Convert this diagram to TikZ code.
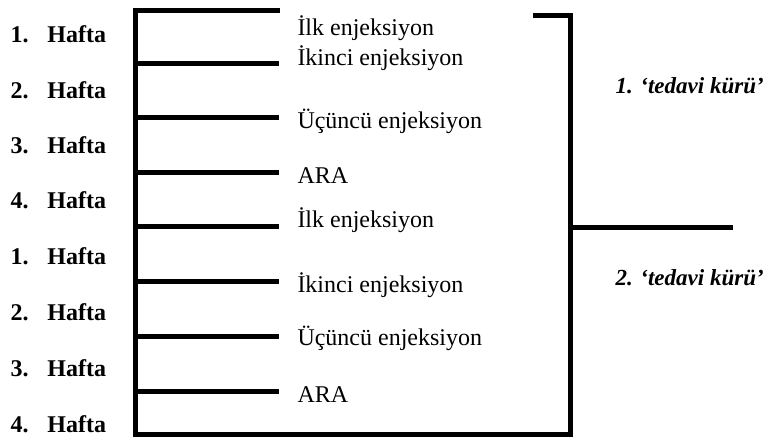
\documentclass[tikz,border=0pt]{standalone}
\usepackage{fontspec}
\setmainfont{Liberation Serif}

\begin{document}
\begin{tikzpicture}[x=1pt, y=-1pt, line width=5pt,
    week/.style={anchor=base west, inner sep=0pt, font=\fontsize{24}{28}\selectfont\bfseries},
    dose/.style={anchor=base west, inner sep=0pt, font=\fontsize{24}{28}\selectfont},
    cure/.style={anchor=base west, inner sep=0pt, font=\fontsize{23}{27}\selectfont\bfseries\itshape}]
    \useasboundingbox (0,0) rectangle (772,439);
    % Weeks
    \foreach \n/\y [count=\i] in {1/42,2/98,3/153,4/208,1/264,2/320,3/376,4/432}
        \node[week] (w\i) at (8,\y) {\makebox[37pt][l]{\n.}Hafta};
    % Main bracket
    \draw (280,10) -- (135,10) -- (135,434) -- (570,434) -- (570,15) -- (533,15);
    \foreach \y in {63,117,172,226,281,336,391}
        \draw (135,\y) -- (279,\y);
    \draw (570,227) -- (733,227);
    % Injections
    \node[dose] (d1) at (295,35) {İlk enjeksiyon};
    \node[dose] (d2) at (295,65) {İkinci enjeksiyon};
    \node[dose] (d3) at (295,128) {Üçüncü enjeksiyon};
    \node[dose] (d4) at (295,183) {ARA};
    \node[dose] (d5) at (295,227) {İlk enjeksiyon};
    \node[dose] (d6) at (295,292) {İkinci enjeksiyon};
    \node[dose] (d7) at (295,345) {Üçüncü enjeksiyon};
    \node[dose] (d8) at (295,402) {ARA};
    % Cures
    \node[cure] (c1) at (613,93) {1. ‘tedavi kürü’};
    \node[cure] (c2) at (613,285) {2. ‘tedavi kürü’};
\end{tikzpicture}
\end{document}
